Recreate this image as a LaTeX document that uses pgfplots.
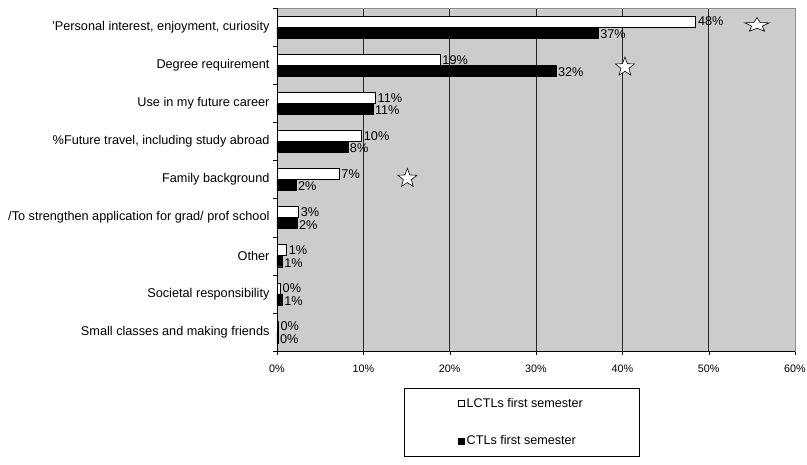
\documentclass[border=0pt]{standalone}
\usepackage{fontspec}
\setmainfont{Liberation Sans}
\usepackage{pgfplots}
\pgfplotsset{compat=1.18}

% five-pointed star used for the annotation marks
\pgfdeclareplotmark{fivestar}{%
  \pgfpathmoveto{\pgfpointpolar{90}{\pgfplotmarksize}}%
  \pgfpathlineto{\pgfpointpolar{126}{0.42\pgfplotmarksize}}%
  \pgfpathlineto{\pgfpointpolar{162}{\pgfplotmarksize}}%
  \pgfpathlineto{\pgfpointpolar{198}{0.42\pgfplotmarksize}}%
  \pgfpathlineto{\pgfpointpolar{234}{\pgfplotmarksize}}%
  \pgfpathlineto{\pgfpointpolar{270}{0.42\pgfplotmarksize}}%
  \pgfpathlineto{\pgfpointpolar{306}{\pgfplotmarksize}}%
  \pgfpathlineto{\pgfpointpolar{342}{0.42\pgfplotmarksize}}%
  \pgfpathlineto{\pgfpointpolar{18}{\pgfplotmarksize}}%
  \pgfpathlineto{\pgfpointpolar{54}{0.42\pgfplotmarksize}}%
  \pgfpathclose
  \pgfusepathqfillstroke}

\begin{document}
\begin{tikzpicture}
\begin{axis}[
  scale only axis, width=518pt, height=343pt,
  xmin=0, xmax=60, ymin=-0.5, ymax=8.5, y dir=reverse,
  axis background/.style={fill=black!20},
  axis line style={draw=black!45},
  xtick={0,10,...,60},
  xticklabels={0\%,10\%,20\%,30\%,40\%,50\%,60\%},
  xticklabel style={font=\fontsize{10.8}{12}\selectfont, yshift=-6pt},
  ytick={0,...,8},
  yticklabels={{'Personal interest, enjoyment, curiosity},{Degree requirement},{Use in my future career},{\%Future travel, including study abroad},{Family background},{/To strengthen application for grad/ prof school},{Other},{Societal responsibility},{Small classes and making friends}},
  yticklabel style={font=\fontsize{12.7}{14}\selectfont},
  major y tick style={draw=none},
  minor ytick={-0.5,0.5,...,8.5},
  minor tick length=4pt, major tick length=4pt,
  tick align=outside, tick pos=left,
  tick style={black},
  xmajorgrids, major grid style={black!85, line width=0.8pt},
  /pgf/number format/assume math mode=true,
  legend style={at={(0.2452,-0.1079)}, anchor=north west, draw=black, fill=white,
    inner xsep=54pt, inner ysep=8pt, row sep=23pt,
    font=\fontsize{12.6}{14}\selectfont},
  legend cell align=left,
  clip=false,
]
\addplot[xbar, bar width=11pt, bar shift=5.5pt, fill=white, draw=black, line width=0.6pt,
  point meta=explicit symbolic,
  nodes near coords={\pgfplotspointmeta\%},
  nodes near coords style={font=\fontsize{12.7}{14}\selectfont, anchor=west, inner xsep=2pt, yshift=5.5pt},
  legend image code/.code={\draw[fill=white, draw=black, line width=0.5pt] (0pt,-3pt) rectangle (6pt,3pt);}]
  coordinates {(48.5,0) [48] (18.9,1) [19] (11.4,2) [11] (9.8,3) [10] (7.2,4) [7]
               (2.5,5) [3] (1.1,6) [1] (0.4,7) [0] (0.15,8) [0]};
\addlegendentry{LCTLs first semester}
\addplot[xbar, bar width=11pt, bar shift=-5.5pt, fill=black, draw=black,
  point meta=explicit symbolic,
  nodes near coords={\pgfplotspointmeta\%},
  nodes near coords style={font=\fontsize{12.7}{14}\selectfont, anchor=west, inner xsep=2pt, yshift=-7pt},
  legend image code/.code={\draw[fill=black, draw=black] (0pt,-3pt) rectangle (6pt,3pt);}]
  coordinates {(37.2,0) [37] (32.3,1) [32] (11.1,2) [11] (8.2,3) [8] (2.2,4) [2]
               (2.3,5) [2] (0.6,6) [1] (0.6,7) [1] (0.1,8) [0]};
\addlegendentry{CTLs first semester}
% stars
\addplot[only marks, mark=fivestar, mark size=10pt, mark options={fill=white, draw=black, line width=0.6pt, xscale=1.3, yscale=0.75}, forget plot]
  coordinates {(55.6,-0.05)};
\addplot[only marks, mark=fivestar, mark size=10pt, mark options={fill=white, draw=black, line width=0.6pt}, forget plot]
  coordinates {(40.3,1.05) (15.1,3.97)};
\draw[black, line width=0.8pt] (rel axis cs:0,0) -- (rel axis cs:0,1);
\draw[black, line width=0.8pt] (rel axis cs:0,0) -- (rel axis cs:1,0);
\end{axis}
\pgfresetboundingbox
\path (current axis.south west) ++(-277pt,-114pt) rectangle ++(807pt,465pt);
\end{tikzpicture}
\end{document}
